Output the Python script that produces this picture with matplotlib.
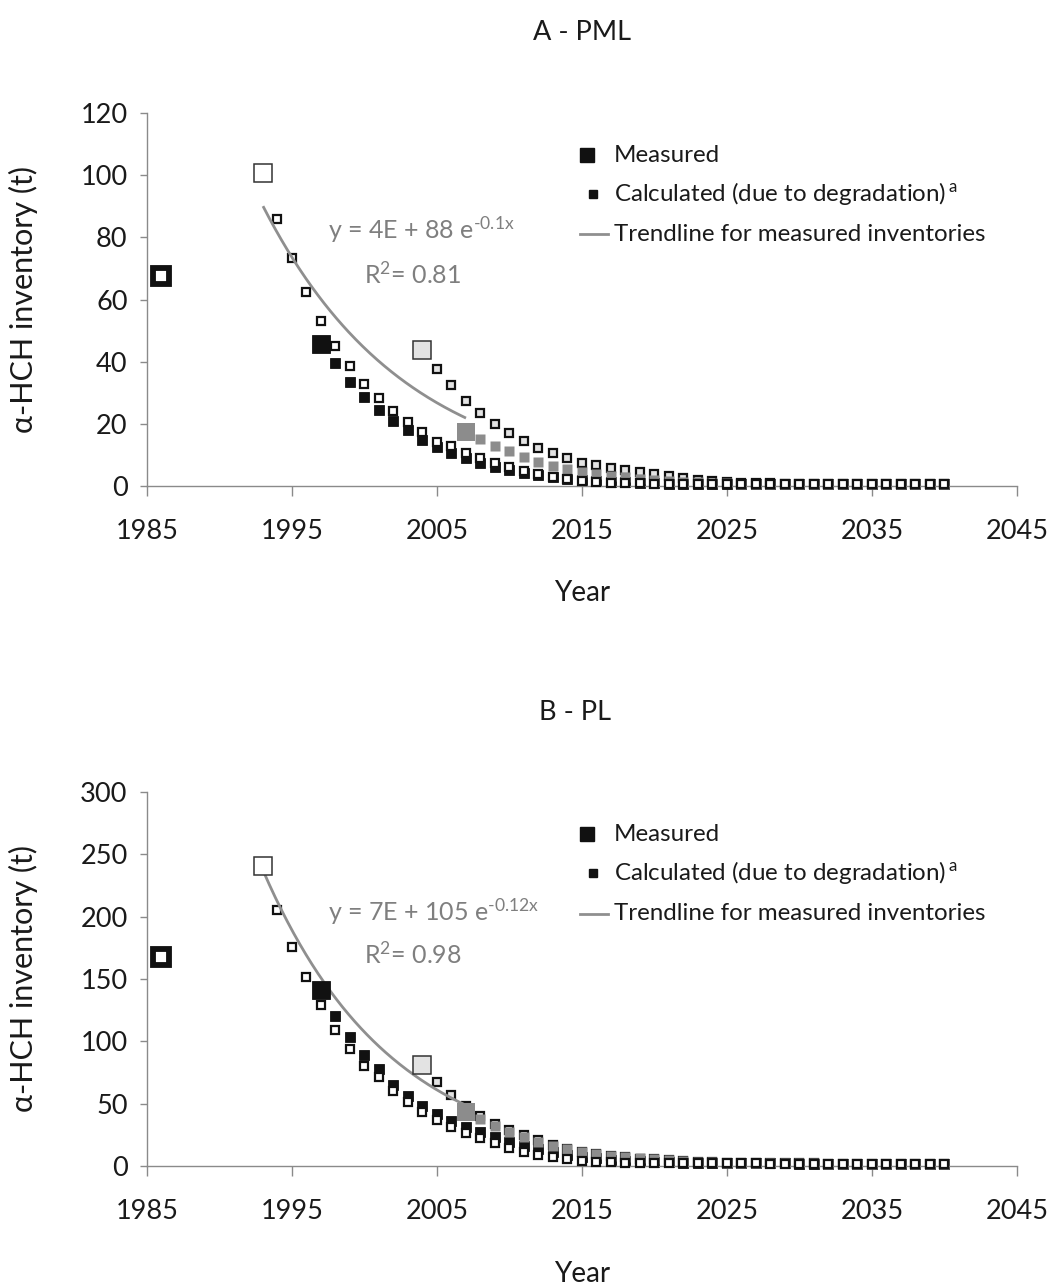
import numpy as np
import matplotlib
matplotlib.use("Agg")
import matplotlib.pyplot as plt
from matplotlib.lines import Line2D

plt.rcParams['font.family'] = ['Lato', 'DejaVu Sans']
plt.rcParams['mathtext.default'] = 'regular'

# ---------------- Data: panel A (PML) ----------------
a_meas_years = [1986, 1993, 1997, 2004, 2007]
a_meas_vals = [67.5, 100.7, 45.7, 43.7, 17.4]
a_calc93_start = 1994
a_calc93 = [85.9, 73.4, 62.5, 53.2, 45.1, 38.5, 32.7, 28.4, 24.2, 20.5,
            17.3, 14.3, 12.9, 10.5, 8.9, 7.5, 6.0, 4.7, 3.7, 2.9,
            2.2, 1.6, 1.3, 1.1, 1.0, 0.9, 0.8, 0.8, 0.7, 0.7,
            0.7, 0.6, 0.6, 0.6, 0.6, 0.5, 0.5, 0.5, 0.5, 0.5,
            0.5, 0.5, 0.5, 0.5, 0.5, 0.5, 0.5]
a_calc97_start = 1998
a_calc97 = [39.6, 33.6, 28.6, 24.3, 20.9, 17.9, 14.7, 12.6, 10.5, 8.9,
            7.3, 6.0, 5.0, 4.2, 3.5, 2.9, 2.4, 2.0, 1.7, 1.4,
            1.2, 1.0, 0.9, 0.8, 0.7, 0.7, 0.6, 0.6, 0.6, 0.5,
            0.5, 0.5, 0.5, 0.5, 0.5, 0.5, 0.5, 0.5, 0.5, 0.5,
            0.5, 0.5, 0.5]
a_calc04_start = 2005
a_calc04 = [37.7, 32.6, 27.3, 23.6, 20.1, 17.1, 14.6, 12.1, 10.5, 8.9,
            7.5, 6.7, 5.9, 5.1, 4.4, 3.7, 3.2, 2.5, 2.0, 1.6,
            1.3, 1.1, 1.0, 0.9, 0.8, 0.7, 0.7, 0.6, 0.6, 0.6,
            0.5, 0.5, 0.5, 0.5, 0.5, 0.5]
a_calc07_start = 2008
a_calc07 = [15.0, 12.8, 11.2, 9.2, 7.8, 6.4, 5.5, 4.6, 3.9, 3.3,
            2.8, 2.4, 2.0, 1.7, 1.4, 1.2, 1.0, 0.9, 0.8, 0.7,
            0.7, 0.6, 0.6, 0.6, 0.5, 0.5, 0.5, 0.5, 0.5, 0.5,
            0.5, 0.5, 0.5]
a_equation = "y = 4E + 88 e$^{\u20100.1x}$"
a_r2 = "R$^{2}$= 0.81"

# ---------------- Data: panel B (PL) ----------------
b_meas_years = [1986, 1993, 1997, 2004, 2007]
b_meas_vals = [168.0, 240.3, 140.8, 80.8, 43.5]
b_calc93_start = 1994
b_calc93 = [205.3, 175.5, 151.5, 129.3, 109.3, 94.1, 80.0, 71.0, 60.0, 51.5,
            43.0, 36.5, 31.5, 26.5, 22.5, 18.5, 14.5, 11.0, 8.8, 7.0,
            5.5, 4.2, 3.4, 3.0, 2.8, 2.6, 2.5, 2.4, 2.3, 2.2,
            2.2, 2.1, 2.1, 2.1, 2.0, 2.0, 2.0, 2.0, 2.0, 2.0,
            2.0, 2.0, 2.0, 2.0, 2.0, 2.0, 2.0]
b_calc97_start = 1998
b_calc97 = [120.3, 103.5, 89.3, 78.1, 64.8, 55.8, 48.5, 41.8, 36.2, 31.0,
            27.5, 23.0, 19.5, 16.0, 13.3, 11.0, 9.0, 7.5, 6.2, 5.2,
            4.4, 3.8, 3.3, 3.0, 2.8, 2.6, 2.5, 2.4, 2.3, 2.2,
            2.1, 2.1, 2.0, 2.0, 2.0, 2.0, 2.0, 2.0, 2.0, 2.0,
            2.0, 2.0, 2.0]
b_calc04_start = 2005
b_calc04 = [67.5, 57.3, 48.5, 39.8, 33.8, 29.0, 24.8, 20.5, 17.0, 14.0,
            11.0, 9.3, 8.0, 6.9, 6.0, 5.3, 4.7, 4.2, 3.5, 2.9,
            2.6, 2.5, 2.4, 2.3, 2.2, 2.1, 2.1, 2.0, 2.0, 2.0,
            2.0, 2.0, 2.0, 2.0, 2.0, 2.0]
b_calc07_start = 2008
b_calc07 = [38.1, 32.0, 27.5, 23.0, 19.5, 16.0, 13.5, 11.2, 9.5, 8.2,
            7.1, 6.2, 5.5, 4.9, 4.4, 3.6, 3.0, 2.7, 2.5, 2.4,
            2.3, 2.2, 2.1, 2.1, 2.0, 2.0, 2.0, 2.0, 2.0, 2.0,
            2.0, 2.0, 2.0]
b_equation = "y = 7E + 105 e$^{\u20100.12x}$"
b_r2 = "R$^{2}$= 0.98"

x_ticks = [1985, 1995, 2005, 2015, 2025, 2035, 2045]
a_y_ticks = [0, 20, 40, 60, 80, 100, 120]
b_y_ticks = [0, 50, 100, 150, 200, 250, 300]

legend_labels = ["Measured", "Calculated (due to degradation)$^{\\,a}$",
                 "Trendline for measured inventories"]
y_label = "\u03b1-HCH inventory (t)"
x_label = "Year"

# ---------------- Styling ----------------
W, H = 1054, 1286
fig = plt.figure(figsize=(W / 100, H / 100), dpi=100, facecolor="white")

AX_COL = "#8a8a8a"
TXT = "#1a1a1a"
GRAY_TXT = "#7f7f7f"
TREND = "#8f8f8f"
LIGHT = "#e3e3e3"
MID = "#8c8c8c"
DARK = "#111111"


def series_years(start, vals):
    return np.arange(start, start + len(vals))


def draw_panel(ax, meas_years, meas_vals, c93, s93, c97, s97, c04, s04, c07, s07,
               yticks, eq, r2, eq_xy, r2_xy):
    ax.set_xlim(x_ticks[0], x_ticks[-1])
    ax.set_ylim(yticks[0], yticks[-1])
    for s in ("top", "right"):
        ax.spines[s].set_visible(False)
    for s in ("left", "bottom"):
        ax.spines[s].set_color(AX_COL)
        ax.spines[s].set_linewidth(1.0)
    ax.set_xticks(x_ticks)
    ax.set_yticks(yticks)
    ax.tick_params(axis="x", direction="out", length=7, width=1.0, color=AX_COL,
                   labelsize=19.5, labelcolor=TXT, pad=17)
    ax.tick_params(axis="y", direction="out", length=5, width=1.0, color=AX_COL,
                   labelsize=19.5, labelcolor=TXT, pad=9)
    ax.patch.set_alpha(0)

    small = 6.2
    # calculated series
    ax.plot(series_years(s97, c97), c97, ls="none", marker="s", ms=6.6,
            mfc=DARK, mec=DARK, mew=0.6, zorder=2, clip_on=False)
    ax.plot(series_years(s04, c04), c04, ls="none", marker="s", ms=small,
            mfc=LIGHT, mec=DARK, mew=1.6, zorder=3, clip_on=False)
    ax.plot(series_years(s07, c07), c07, ls="none", marker="s", ms=7.4,
            mfc=MID, mec="none", zorder=4, clip_on=False)
    ax.plot(series_years(s93, c93), c93, ls="none", marker="s", ms=small,
            mfc="white", mec=DARK, mew=1.6, zorder=5, clip_on=False)

    # trendline: exponential fit on measured inventories 1993-2007
    fy = np.array(meas_years[1:], dtype=float)
    fv = np.array(meas_vals[1:], dtype=float)
    k, c = np.polyfit(fy, np.log(fv), 1)
    tx = np.linspace(fy.min(), fy.max(), 200)
    ax.plot(tx, np.exp(c + k * tx), color=TREND, lw=2.0, zorder=6,
            solid_capstyle="butt")

    # measured
    styles = [
        dict(mfc="white", mec=DARK, mew=4.2, ms=12.0),
        dict(mfc="white", mec="#333333", mew=1.1, ms=12.6),
        dict(mfc=DARK, mec=DARK, mew=0.6, ms=13.0),
        dict(mfc=LIGHT, mec="#333333", mew=1.1, ms=12.6),
        dict(mfc=MID, mec="none", mew=0, ms=13.2),
    ]
    for yr, v, st in zip(meas_years, meas_vals, styles):
        ax.plot([yr], [v], ls="none", marker="s", zorder=7, clip_on=False, **st)

    ax.text(eq_xy[0], eq_xy[1], eq, color=GRAY_TXT, fontsize=18,
            ha="left", va="center")
    ax.text(r2_xy[0], r2_xy[1], r2, color=GRAY_TXT, fontsize=18,
            ha="left", va="center")

    # legend (manual, Excel-like)
    lx_m, lx_t = 0.506, 0.537
    ly = [0.887, 0.784, 0.675]
    ax.add_line(Line2D([lx_m], [ly[0]], transform=ax.transAxes, ls="none",
                       marker="s", ms=9.5, mfc=DARK, mec=DARK, clip_on=False))
    ax.add_line(Line2D([lx_m + 0.007], [ly[1]], transform=ax.transAxes, ls="none",
                       marker="s", ms=5.5, mfc=DARK, mec=DARK, clip_on=False))
    ax.add_line(Line2D([lx_m - 0.008, lx_m + 0.024], [ly[2], ly[2]],
                       transform=ax.transAxes, color=TREND, lw=2.0, clip_on=False))
    for yy, lab in zip(ly, legend_labels):
        ax.text(lx_t, yy, lab, transform=ax.transAxes, fontsize=17.4,
                color=TXT, ha="left", va="center")

    ax.set_ylabel(y_label, fontsize=22, color=TXT)
    ax.yaxis.set_label_coords(-0.125, 0.5)
    ax.set_xlabel(x_label, fontsize=20, color=TXT, va="center")
    ax.xaxis.set_label_coords(0.5, -0.288)


axA = fig.add_axes([147 / W, 1 - 486 / H, 870 / W, 373 / H])
draw_panel(axA, a_meas_years, a_meas_vals,
           a_calc93, a_calc93_start, a_calc97, a_calc97_start,
           a_calc04, a_calc04_start, a_calc07, a_calc07_start,
           a_y_ticks, a_equation, a_r2, (1997.5, 82.5), (2000.0, 68.0))

axB = fig.add_axes([147 / W, 1 - 1166 / H, 870 / W, 374 / H])
draw_panel(axB, b_meas_years, b_meas_vals,
           b_calc93, b_calc93_start, b_calc97, b_calc97_start,
           b_calc04, b_calc04_start, b_calc07, b_calc07_start,
           b_y_ticks, b_equation, b_r2, (1997.5, 204), (2000.0, 170))

fig.text(582 / W, 1 - 32 / H, "A - PML", fontsize=19.5, color=TXT,
         ha="center", va="center")
fig.text(575 / W, 1 - 712 / H, "B - PL", fontsize=19.5, color=TXT,
         ha="center", va="center")

fig.savefig("out.png", dpi=100, facecolor="white")
